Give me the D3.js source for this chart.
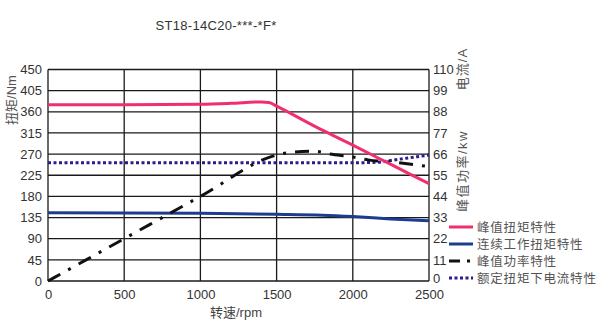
<!DOCTYPE html>
<html>
<head>
<meta charset="utf-8">
<script src="https://cdn.jsdelivr.net/npm/d3@7"></script>
<style>
  body { margin:0; background:#fff; }
  svg { display:block; font-family: "Liberation Sans", Arial, "Noto Sans CJK SC", sans-serif; }
  .cjk { font-family: "Liberation Sans", "Noto Sans CJK SC", sans-serif; }
</style>
</head>
<body>
<svg id="chart" width="613" height="329"></svg>
<script>
const title = 'ST18-14C20-***-*F*';
const xTicks = [0, 500, 1000, 1500, 2000, 2500];
const leftTicks = [0, 45, 90, 135, 180, 225, 270, 315, 360, 405, 450];
const rightTicks = [0, 11, 22, 33, 44, 55, 66, 77, 88, 99, 110];

// 峰值扭矩 (Nm)
const peakTorque = [[0,375],[500,375],[1000,376],[1200,378],[1400,381],[1450,380],[1500,372],[1800,321],[2000,289],[2250,248],[2500,207]];
// 连续扭矩 (Nm)
const contTorque = [[0,145],[1000,144],[1500,142],[1800,140],[2000,137],[2250,132],[2500,128]];
// 峰值功率 (kW)
const peakPower = [[0,0],[500,22],[1000,44],[1500,65.5],[1600,67],[1750,67.5],[1850,66],[2000,64.5],[2100,63],[2300,61.5],[2500,59.5]];
// 额定扭矩下电流 (A)
const ratedCurrent = [[0,61.5],[1000,61.5],[1500,61.5],[2000,61.5],[2150,61.7],[2300,63.3],[2500,65.5]];

const legendItems = [
  { label:'峰值扭矩特性', color:'#ef2f6e', dash:null },
  { label:'连续工作扭矩特性', color:'#1d3c8f', dash:null },
  { label:'峰值功率特性', color:'#111', dash:'11,7,3,9' },
  { label:'额定扭矩下电流特性', color:'#2d1b8c', dash:'3,2.5' }
];

const svg = d3.select('#chart');
const m = { left:48, right:429, top:69.5, bottom:281 };

const x = d3.scaleLinear().domain([0,2500]).range([m.left, m.right]);
const yL = d3.scaleLinear().domain([0,450]).range([m.bottom, m.top]);
const yR = d3.scaleLinear().domain([0,110]).range([m.bottom, m.top]);

// grid
const grid = svg.append('g').attr('stroke','#1a1a1a').attr('stroke-width',1.3);
grid.selectAll('.h').data(leftTicks).join('line')
  .attr('x1', m.left).attr('x2', m.right)
  .attr('y1', d=>yL(d)).attr('y2', d=>yL(d));
grid.selectAll('.v').data(xTicks).join('line')
  .attr('y1', m.top).attr('y2', m.bottom)
  .attr('x1', d=>x(d)).attr('x2', d=>x(d));

// axes (labels only; lines come from grid)
const axL = svg.append('g').attr('transform', `translate(${m.left},0)`)
  .call(d3.axisLeft(yL).tickValues(leftTicks).tickSize(0).tickPadding(6));
const axR = svg.append('g').attr('transform', `translate(${m.right},0)`)
  .call(d3.axisRight(yR).tickValues(rightTicks).tickSize(0).tickPadding(4));
const axB = svg.append('g').attr('transform', `translate(0,${m.bottom})`)
  .call(d3.axisBottom(x).tickValues(xTicks).tickFormat(d3.format('d')).tickSize(0).tickPadding(9));
[axL, axR, axB].forEach(a => {
  a.select('.domain').remove();
  a.selectAll('text').attr('font-size', 13).attr('fill', '#333')
    .attr('font-family', '"Liberation Sans", Arial, sans-serif');
});
axR.selectAll('text').filter(d=>d===0).attr('dy','0.1em');

// curves
const lineL = d3.line().x(d=>x(d[0])).y(d=>yL(d[1])).curve(d3.curveMonotoneX);
const lineR = d3.line().x(d=>x(d[0])).y(d=>yR(d[1])).curve(d3.curveMonotoneX);

svg.append('path').datum(ratedCurrent).attr('d', lineR)
  .attr('fill','none').attr('stroke', legendItems[3].color).attr('stroke-width',3)
  .attr('stroke-dasharray', legendItems[3].dash);
svg.append('path').datum(contTorque).attr('d', lineL)
  .attr('fill','none').attr('stroke', legendItems[1].color).attr('stroke-width',3);
svg.append('path').datum(peakPower).attr('d', lineR)
  .attr('fill','none').attr('stroke', legendItems[2].color).attr('stroke-width',3)
  .attr('stroke-dasharray', '14,9,3,9');
svg.append('path').datum(peakTorque).attr('d', lineL)
  .attr('fill','none').attr('stroke', legendItems[0].color).attr('stroke-width',3);

// title
svg.append('text').attr('x', 216).attr('y', 30).attr('text-anchor','middle')
  .attr('font-size', 13).attr('fill','#333').attr('letter-spacing', 0.3).text(title);

// axis titles
svg.append('text').attr('class','cjk').attr('transform','translate(16,100) rotate(-90)')
  .attr('text-anchor','middle').attr('font-size',13).attr('fill','#555').text('扭矩/Nm');
svg.append('text').attr('class','cjk').attr('transform','translate(467,69) rotate(-90)')
  .attr('text-anchor','middle').attr('font-size',13).attr('fill','#555').attr('letter-spacing',1).text('电流/A');
svg.append('text').attr('class','cjk').attr('transform','translate(467,171) rotate(-90)')
  .attr('text-anchor','middle').attr('font-size',13).attr('fill','#555').attr('letter-spacing',1.5).text('峰值功率/kw');
svg.append('text').attr('class','cjk').attr('x', 236).attr('y', 317)
  .attr('text-anchor','middle').attr('font-size',13).attr('fill','#444').text('转速/rpm');

// legend
const lg = svg.append('g').attr('transform','translate(449,227)');
const rows = lg.selectAll('g').data(legendItems).join('g')
  .attr('transform', (d,i)=>`translate(0,${i*17})`);
rows.append('line').attr('x1',0).attr('x2',24).attr('y1',0).attr('y2',0)
  .attr('stroke', d=>d.color).attr('stroke-width',3)
  .attr('stroke-dasharray', d=>d.dash);
rows.append('text').attr('class','cjk').attr('x',28).attr('y',4.5)
  .attr('font-size',12.5).attr('fill','#555').attr('letter-spacing',0.8)
  .text(d=>d.label);
</script>
</body>
</html>
